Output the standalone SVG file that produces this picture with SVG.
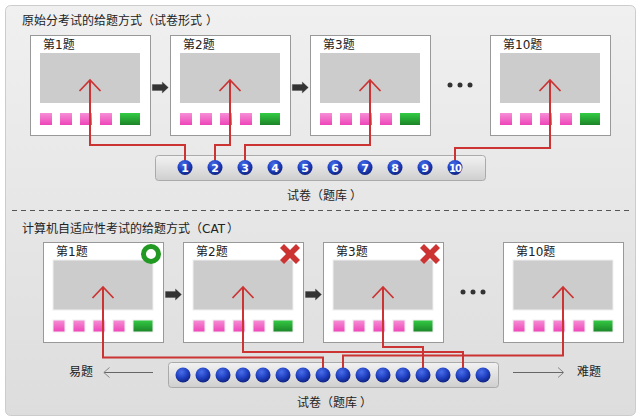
<svg xmlns="http://www.w3.org/2000/svg" xmlns:xlink="http://www.w3.org/1999/xlink" width="640" height="420" viewBox="0 0 640 420">
<style>
text{font-family:"DejaVu Sans","Noto Sans CJK SC",sans-serif;font-size:12px;fill:#222}
.card{fill:#fff;stroke:#999;stroke-width:1}
.scr{fill:#ccc}
.halo{stroke:#f0f0f0;stroke-width:1}
.link{fill:none;stroke:#cc3333;stroke-width:2;marker-end:url(#chev)}
.bar{fill:url(#barG);stroke:#aaa;stroke-width:1}
.num{font-size:11px;font-weight:bold;fill:#fff;text-anchor:middle}
.thin{stroke:#666;stroke-width:1;fill:none}
.thinh{stroke:#888;stroke-width:1;fill:none}
.dot{fill:#333}
</style>
<defs>
<linearGradient id="bg" x1="0" y1="0" x2="0" y2="1"><stop offset="0" stop-color="#f0f0f0"/><stop offset="1" stop-color="#dddddd"/></linearGradient>
<linearGradient id="barG" x1="0" y1="0" x2="0" y2="1"><stop offset="0" stop-color="#f2f2f2"/><stop offset="1" stop-color="#cfcfcf"/></linearGradient>
<linearGradient id="pink" x1="0" y1="0" x2="0" y2="1"><stop offset="0" stop-color="#f68fd6"/><stop offset="1" stop-color="#ee44b8"/></linearGradient>
<linearGradient id="green" x1="0" y1="0" x2="0" y2="1"><stop offset="0" stop-color="#33cc44"/><stop offset="1" stop-color="#1c8428"/></linearGradient>
<radialGradient id="ball" cx="0.4" cy="0.3" r="0.75"><stop offset="0" stop-color="#4a6fe8"/><stop offset="0.55" stop-color="#1f3fc0"/><stop offset="1" stop-color="#0c1f78"/></radialGradient>
<marker id="chev" markerUnits="userSpaceOnUse" viewBox="-13 -12 15 24" refX="0" refY="0" markerWidth="15" markerHeight="24" orient="auto" overflow="visible"><path d="M-11,-10.5 L0,0 L-11,10.5" fill="none" stroke="#cc3333" stroke-width="1.7"/></marker>
<g id="inner"><rect class="scr" x="10" y="18" width="100" height="50"/><rect x="10" y="78" width="12" height="12" fill="url(#pink)"/><rect x="30" y="78" width="12" height="12" fill="url(#pink)"/><rect x="50" y="78" width="12" height="12" fill="url(#pink)"/><rect x="70" y="78" width="12" height="12" fill="url(#pink)"/><rect x="90" y="78" width="20" height="12" fill="url(#green)"/></g>
<g id="card"><rect class="card" x="0.5" y="0.5" width="120" height="100"/><use xlink:href="#inner"/></g>
<g id="cardh"><rect class="card" x="0.5" y="0.5" width="120" height="100"/><use xlink:href="#inner" class="halo"/></g>
<path id="go" d="M0,-3 H10 V-5.5 L16,0 L10,5.5 V3 H0 Z" fill="#333" stroke="#333" stroke-width="0.3" stroke-linejoin="round"/>
<path id="cross" d="M-10,-6 L-6,-10 L0,-4 L6,-10 L10,-6 L4,0 L10,6 L6,10 L0,4 L-6,10 L-10,6 L-4,0 Z" fill="#cc3333"/>
<circle id="b" r="7.5" fill="url(#ball)"/>
</defs>
<rect x="5.5" y="5.5" width="630" height="410" rx="5" fill="url(#bg)" stroke="#ccc"/>
<line x1="12" y1="210.5" x2="630" y2="210.5" stroke="#555" stroke-dasharray="5 4"/>
<text x="22" y="25">原始分考试的给题方式（试卷形式<tspan dx="4">）</tspan></text>
<text x="22" y="233">计算机自适应性考试的给题方式（CAT<tspan dx="2">）</tspan></text>

<g id="q1a"><use xlink:href="#card" x="30" y="35"/><text x="43" y="49">第1题</text></g>
<g id="q2a"><use xlink:href="#card" x="170" y="35"/><text x="183" y="49">第2题</text></g>
<g id="q3a"><use xlink:href="#card" x="310" y="35"/><text x="323" y="49">第3题</text></g>
<g id="q10a"><use xlink:href="#card" x="490" y="35"/><text x="503" y="49">第10题</text></g>
<use xlink:href="#go" x="152.3" y="87.5"/><use xlink:href="#go" x="292.3" y="87.5"/>
<g class="dot"><circle cx="450" cy="85" r="2.5"/><circle cx="460" cy="85" r="2.5"/><circle cx="470" cy="85" r="2.5"/></g>

<g id="q1b"><use xlink:href="#cardh" x="43" y="242"/><text x="56" y="256">第1题</text><circle cx="151" cy="254" r="7.5" fill="none" stroke="#229922" stroke-width="5"/></g>
<g id="q2b"><use xlink:href="#cardh" x="183" y="242"/><text x="196" y="256">第2题</text><use xlink:href="#cross" x="290" y="254"/></g>
<g id="q3b"><use xlink:href="#cardh" x="323" y="242"/><text x="336" y="256">第3题</text><use xlink:href="#cross" x="430" y="254"/></g>
<g id="q10b"><use xlink:href="#cardh" x="503" y="242"/><text x="516" y="256">第10题</text></g>
<use xlink:href="#go" x="165.5" y="294.5"/><use xlink:href="#go" x="305.5" y="294.5"/>
<g class="dot"><circle cx="463" cy="292" r="2.5"/><circle cx="473" cy="292" r="2.5"/><circle cx="483" cy="292" r="2.5"/></g>

<g id="bank-a"><rect class="bar" x="155.5" y="155.5" width="330" height="25" rx="3"/></g>
<g id="bank-b"><rect class="bar" x="168.5" y="362.5" width="330" height="25" rx="3"/></g>

<g id="connectors">
<polyline class="link" points="185,162 185,145 90,145 90,80"/>
<polyline class="link" points="215,162 215,145 230,145 230,80"/>
<polyline class="link" points="245,162 245,145 370,145 370,80"/>
<polyline class="link" points="455,162 455,148 550,148 550,80"/>
<polyline class="link" points="323,369 323,357.5 103,357.5 103,287"/>
<polyline class="link" points="463,369 463,352 243,352 243,287"/>
<polyline class="link" points="423,369 423,347 383,347 383,287"/>
<polyline class="link" points="343,369 343,355.5 563,355.5 563,287"/>
<g class="thin"><path d="M104,372.5 H153"/><path d="M109.5,367.5 L103.8,372.5 L109.5,377.5" class="thinh"/><path d="M513,372.5 H563"/><path d="M558,367.5 L563.7,372.5 L558,377.5" class="thinh"/></g>
</g>

<g id="balls-a">
<use xlink:href="#b" x="185" y="167.5"/><use xlink:href="#b" x="215" y="167.5"/><use xlink:href="#b" x="245" y="167.5"/><use xlink:href="#b" x="275" y="167.5"/><use xlink:href="#b" x="305" y="167.5"/><use xlink:href="#b" x="335" y="167.5"/><use xlink:href="#b" x="365" y="167.5"/><use xlink:href="#b" x="395" y="167.5"/><use xlink:href="#b" x="425" y="167.5"/><use xlink:href="#b" x="455" y="167.5"/>
<text class="num" x="185" y="171.5">1</text><text class="num" x="215" y="171.5">2</text><text class="num" x="245" y="171.5">3</text><text class="num" x="275" y="171.5">4</text><text class="num" x="305" y="171.5">5</text><text class="num" x="335" y="171.5">6</text><text class="num" x="365" y="171.5">7</text><text class="num" x="395" y="171.5">8</text><text class="num" x="425" y="171.5">9</text><text class="num" x="455" y="171.5" style="font-size:10px;letter-spacing:-1px">10</text>
</g>
<g id="balls-b">
<use xlink:href="#b" x="183" y="375"/><use xlink:href="#b" x="203" y="375"/><use xlink:href="#b" x="223" y="375"/><use xlink:href="#b" x="243" y="375"/><use xlink:href="#b" x="263" y="375"/><use xlink:href="#b" x="283" y="375"/><use xlink:href="#b" x="303" y="375"/><use xlink:href="#b" x="323" y="375"/><use xlink:href="#b" x="343" y="375"/><use xlink:href="#b" x="363" y="375"/><use xlink:href="#b" x="383" y="375"/><use xlink:href="#b" x="403" y="375"/><use xlink:href="#b" x="423" y="375"/><use xlink:href="#b" x="443" y="375"/><use xlink:href="#b" x="463" y="375"/><use xlink:href="#b" x="483" y="375"/>
</g>
<text x="287" y="200">试卷（题库<tspan dx="3">）</tspan></text>
<text x="297" y="407">试卷（题库<tspan dx="3">）</tspan></text>
<text x="69" y="376">易题</text>
<text x="577" y="376">难题</text>
</svg>
